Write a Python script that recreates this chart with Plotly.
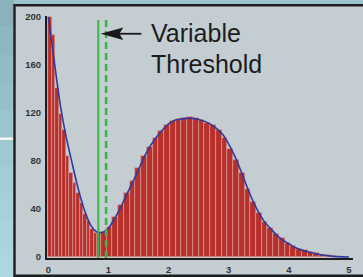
import numpy as np
import plotly.graph_objects as go

# ---------------- data ----------------
curve_x = [round(0.1 * i, 1) for i in range(51)]
curve_y = [200, 162, 126, 99, 77, 56, 39, 27, 21, 20.5,
           24, 32, 41, 52, 62, 73, 84, 93, 100, 106,
           111, 114, 115, 115.5, 115.5, 114.5, 113, 110.5, 107, 102,
           94, 84, 72, 59, 47, 37, 29, 23.5, 18, 14,
           11, 8, 6, 4.5, 3.3, 2.3, 1.4, 0.7, 0.3, 0.1, 0]

# narrow bins at the left, wider bins afterwards
left_bin_start = 0.0
left_bin_width = 0.0583
left_counts = [200, 185, 141, 119, 106, 84, 70, 62, 53, 45, 36, 30, 23, 20, 20]

right_bin_start = 0.875
right_bin_width = 0.0955
right_counts = [21, 25, 33, 43, 53, 63, 74, 84, 92, 99,
                105, 110, 113, 115, 116, 117, 116, 114, 112, 110,
                106, 99, 90, 81, 70, 57, 46, 37, 29, 24,
                19, 16, 12, 9, 7, 5.5, 4, 3, 2, 1.5, 0.8]

threshold_solid = 0.83
threshold_dashed = 0.96
threshold_top = 197.5
arrow_level = 186

x_ticks = [0, 1, 2, 3, 4, 5]
y_ticks = [0, 40, 80, 120, 160, 200]
label_line1 = "Variable"
label_line2 = "Threshold"

# ---------------- geometry ----------------
W, H = 363, 277
ML, MR, MT, MB = 47, 10, 16, 19
PW, PH = W - ML - MR, H - MT - MB
XR = [-0.0233, 5.067]
YR = [-0.83, 200.8]


def px(xp):
    return (xp - ML) / PW


def py(yp):
    return (H - MB - yp) / PH


bar_x, bar_y, bar_w = [], [], []
for i, c in enumerate(left_counts):
    bar_x.append(left_bin_start + left_bin_width * (i + 0.5))
    bar_w.append(left_bin_width)
    bar_y.append(c)
for i, c in enumerate(right_counts):
    bar_x.append(right_bin_start + right_bin_width * (i + 0.5))
    bar_w.append(right_bin_width)
    bar_y.append(c)

fig = go.Figure()
fig.add_trace(go.Bar(
    x=bar_x, y=bar_y, width=bar_w,
    marker=dict(color="#b7302a", line=dict(color="#dba39f", width=0.6)),
    hoverinfo="skip", showlegend=False,
))
fig.add_trace(go.Scatter(
    x=curve_x, y=curve_y, mode="lines",
    line=dict(color="#2f3a9c", width=1.6, shape="spline", smoothing=0.6),
    hoverinfo="skip", showlegend=False,
))

shapes = []
# left strip gradient
bands = ["#8bb2bc", "#8fb7c1", "#93bbc5", "#97bfc9", "#9bc4cd",
         "#9fc8d1", "#a3ccd5", "#a7d0d9", "#aad3dc", "#add6de"]
n = len(bands)
for i, col in enumerate(bands):
    shapes.append(dict(type="rect", xref="paper", yref="paper",
                       x0=px(-2), x1=px(14), y0=py(H * i / n - 1), y1=py(H * (i + 1) / n + 1),
                       fillcolor=col, line=dict(width=0), layer="below"))
# white tick on the left strip
shapes.append(dict(type="rect", xref="paper", yref="paper",
                   x0=px(-2), x1=px(13.5), y0=py(137.5), y1=py(140),
                   fillcolor="#f4f8f9", line=dict(width=0), layer="below"))
# panel
shapes.append(dict(type="rect", xref="paper", yref="paper",
                   x0=px(14.5), x1=px(372), y0=py(5.3), y1=py(275.8),
                   fillcolor="#c3cdd2", line=dict(color="#1e1e1e", width=2.4),
                   layer="below"))
# thresholds
shapes.append(dict(type="line", xref="x", yref="y",
                   x0=threshold_solid, x1=threshold_solid, y0=YR[0], y1=threshold_top,
                   line=dict(color="#3bb54a", width=2)))
shapes.append(dict(type="line", xref="x", yref="y",
                   x0=threshold_dashed, x1=threshold_dashed, y0=YR[0], y1=threshold_top,
                   line=dict(color="#3bb54a", width=2.6, dash="7px,4px")))
# arrow head + shaft (pixel-sized, anchored on the solid threshold)
shapes.append(dict(type="path", xref="x", yref="y",
                   xsizemode="pixel", ysizemode="pixel",
                   xanchor=threshold_solid, yanchor=arrow_level,
                   path="M 2.4,0 L 25,-6.2 L 21,0 L 25,6.2 Z",
                   fillcolor="#1a1a1a", line=dict(width=0)))
shapes.append(dict(type="path", xref="x", yref="y",
                   xsizemode="pixel", ysizemode="pixel",
                   xanchor=threshold_solid, yanchor=arrow_level,
                   path="M 20,0 L 43,0",
                   line=dict(color="#1a1a1a", width=1.8)))

annotations = [
    dict(xref="paper", yref="paper", x=px(148.5), y=py(32.9),
         xanchor="left", yanchor="middle", showarrow=False, text=label_line1,
         font=dict(family="Liberation Sans, Arial", size=25, color="#1c1c1c")),
    dict(xref="paper", yref="paper", x=px(148.5), y=py(63.9),
         xanchor="left", yanchor="middle", showarrow=False, text=label_line2,
         font=dict(family="Liberation Sans, Arial", size=25, color="#1c1c1c")),
]

tickfont = dict(family="Liberation Sans, Arial", size=9.5, color="#333333", weight="bold")
fig.update_layout(
    width=W, height=H,
    margin=dict(l=ML, r=MR, t=MT, b=MB, pad=0, autoexpand=False),
    paper_bgcolor="#9cc4cd", plot_bgcolor="rgba(0,0,0,0)",
    bargap=0, shapes=shapes, annotations=annotations,
    xaxis=dict(range=XR, tickvals=x_ticks, ticktext=[str(t) for t in x_ticks],
               showgrid=False, zeroline=False, showline=True, linecolor="#1e1e1e",
               linewidth=2, ticks="outside", ticklen=2, tickcolor="rgba(0,0,0,0)",
               tickfont=tickfont, fixedrange=True, automargin=False),
    yaxis=dict(range=YR, tickvals=y_ticks, ticktext=[str(t) for t in y_ticks],
               showgrid=False, zeroline=False, showline=True, linecolor="#1e1e1e",
               linewidth=2, ticks="outside", ticklen=2, tickcolor="rgba(0,0,0,0)",
               tickfont=tickfont, fixedrange=True, automargin=False),
)

fig.write_html("out.html", config={"displayModeBar": False},
               post_script="document.body.style.margin='0';document.body.style.overflow='hidden';")
